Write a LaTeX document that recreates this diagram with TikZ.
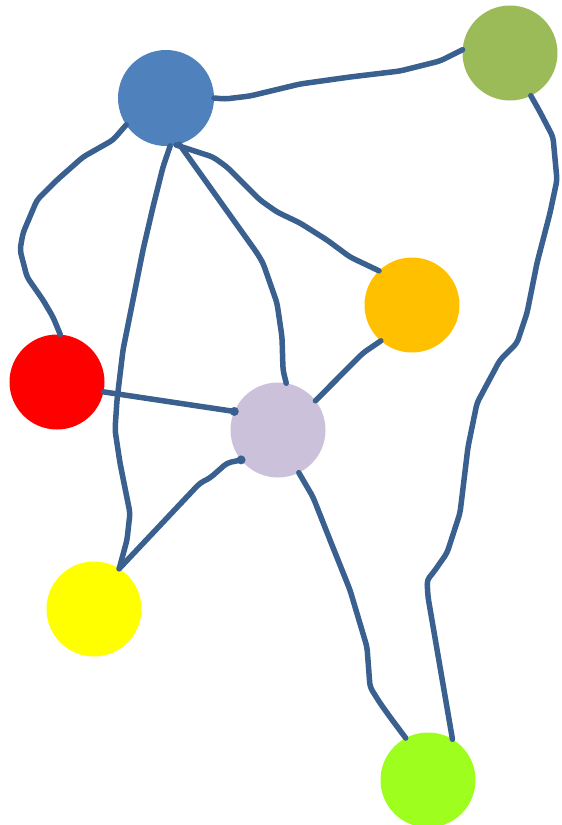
\documentclass[tikz,border=0pt]{standalone}
\begin{document}
\begin{tikzpicture}[x=1pt,y=-1pt,
  dot/.style={circle,minimum size=95pt,inner sep=0pt,outer sep=0pt},
  wire/.style={draw=wirecol,line width=5.5pt,line cap=round,line join=round,rounded corners=4pt},
  blob/.style={circle,fill=wirecol,inner sep=0pt,minimum size=9pt}]
\definecolor{wirecol}{HTML}{3A6090}
\definecolor{cblue}{HTML}{4F81BD}
\definecolor{colive}{HTML}{9BBB59}
\definecolor{corange}{HTML}{FFC000}
\definecolor{cred}{HTML}{FF0000}
\definecolor{clav}{HTML}{CCC1DA}
\definecolor{cyellow}{HTML}{FFFF00}
\definecolor{clime}{HTML}{9EFF1E}
\useasboundingbox (0,0) rectangle (562,825);
\node[dot,fill=cblue,minimum size=96pt] (blue) at (166,98) {};
\node[dot,fill=colive] (olive) at (510,53) {};
\node[dot,fill=corange] (orange) at (412,305) {};
\node[dot,fill=cred] (red) at (57,382) {};
\node[dot,fill=clav] (lav) at (278,430) {};
\node[dot,fill=cyellow] (yellow) at (94,609) {};
\node[dot,fill=clime] (lime) at (428,780) {};
% blue - olive
\draw[wire] (blue.0) -- (225,99) -- (250,96) -- (300,84) -- (350,77) -- (400,71) -- (440,61) -- (olive.176);
% olive - lime
\draw[wire] (olive.-64) -- (540,112) -- (553,137) -- (557,180) -- (550,213) -- (537,263) -- (527,313) -- (517,343) -- (500,360) -- (477,403) -- (468,447) -- (460,513) -- (447,553) -- (433,573) -- (427,580) -- (428,597) -- (lime.59);
% blue - red
\draw[wire] (blue.214) -- (113,140) -- (83,157) -- (57,180) -- (37,200) -- (23,233) -- (20,250) -- (27,277) -- (43,300) -- (53,317) -- (red.86);
% blue - yellow
\draw[wire] (blue.-85) -- (163,167) -- (153,207) -- (143,250) -- (133,300) -- (123,350) -- (117,400) -- (115,430) -- (120,463) -- (130,513) -- (127,540) -- (yellow.58);
% blue - lavender
\draw[wire] (blue.-74) -- (217,197) -- (257,253) -- (263,263) -- (277,303) -- (282,337) -- (283,370) -- (lav.80);
% blue - orange
\draw[wire] (blue.-78) -- (213,157) -- (227,167) -- (260,200) -- (277,212) -- (300,223) -- (327,240) -- (350,257) -- (orange.134);
% lavender - orange
\draw[wire] (lav.38) -- (363,353) -- (orange.-131);
% red - lavender
\draw[wire] (red.-12) -- (lav.157);
\node[blob] (b1) at (lav.157) {};
% yellow - lavender
\draw[wire] (yellow.58) -- (200,483) -- (210,478) -- (227,463) -- (lav.219);
\node[blob] (b2) at (lav.219) {};
% lavender - lime
\draw[wire] (lav.-64) -- (313,497) -- (330,540) -- (350,590) -- (367,647) -- (370,687) -- (380,703) -- (390,717) -- (lime.118);
\end{tikzpicture}
\end{document}
